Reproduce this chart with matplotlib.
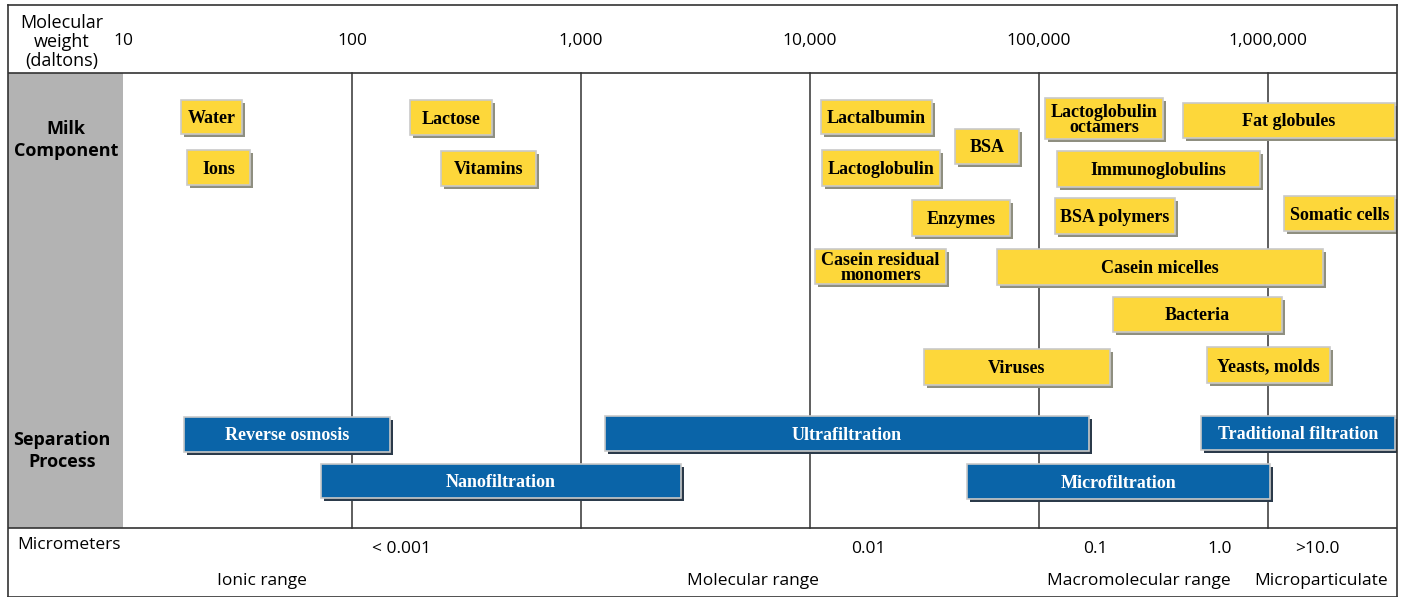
import numpy as np
import matplotlib.pyplot as plt
from matplotlib.patches import Rectangle
from matplotlib.transforms import offset_copy

# Composants du lait : (nom, MW min, MW max, haut, bas) -- y en pixels de ligne
milk_names = ["Water", "Ions", "Lactose", "Vitamins", "Lactalbumin", "Lactoglobulin",
              "BSA", "Enzymes", "Casein residual\nmonomers", "Lactoglobulin\noctamers",
              "Fat globules", "Immunoglobulins", "BSA polymers", "Somatic cells",
              "Casein micelles", "Bacteria", "Viruses", "Yeasts, molds"]
milk_lo = [18, 19, 180, 245, 11200, 11300, 43000, 27900, 10500, 106000,
           425000, 120000, 117000, 1.17e6, 65600, 210000, 31500, 542000]
milk_hi = [33, 36, 410, 635, 34100, 37000, 81800, 74600, 39300, 348000,
           3.6e6, 923000, 393000, 3.59e6, 1.74e6, 1.15e6, 204000, 1.87e6]
milk_top = [100, 150, 100, 151, 100, 150, 129, 200, 249, 98,
            103, 151, 198, 196, 249, 297, 349, 347]
milk_bot = [134, 185, 135, 186, 134, 186, 164, 236, 284, 139,
            138, 187, 234, 231, 285, 332, 385, 383]

# Procédés de séparation
proc_names = ["Reverse osmosis", "Nanofiltration", "Ultrafiltration",
              "Traditional filtration", "Microfiltration"]
proc_lo = [18.5, 73, 1270, 510000, 48500]
proc_hi = [147, 2740, 165000, 3.6e6, 1.02e6]
proc_top = [417, 464, 416, 416, 464]
proc_bot = [452, 498, 451, 450, 499]

mw_ticks = [10, 100, 1000, 10000, 100000, 1000000]
mw_labels = ["10", "100", "1,000", "10,000", "100,000", "1,000,000"]
um_pos = [164, 17900, 177000, 617000, 1.65e6]
um_labels = ["< 0.001", "0.01", "0.1", "1.0", ">10.0"]
range_pos = [40.5, 5640, 274000, 1.70e6]
range_labels = ["Ionic range", "Molecular range", "Macromolecular range", "Microparticulate"]

decade = 229.0  # pixels par décade
x_left = 10 ** (1 - 115 / decade)
x_right = 10 ** (1 + 1274 / decade)

fig = plt.figure(figsize=(14.03, 5.97), dpi=100)
ax = fig.add_axes([8 / 1403, 0, 1389 / 1403, 592 / 597])
ax.set_xscale("log")
ax.set_xlim(x_left, x_right)
ax.set_ylim(592, 0)
ax.set_xticks([])
ax.set_yticks([])
ax.minorticks_off()
for s in ax.spines.values():
    s.set_color("#333333")
    s.set_linewidth(1.2)

# décalage de 5 px pour le y (l'axe commence à y=5)
def Y(v):
    return v - 5

# colonne grise
ax.add_patch(Rectangle((x_left, Y(73)), 10 - x_left, 455, color="#b3b3b3", lw=0, zorder=0))
ax.axhline(Y(73), color="#333333", lw=1.2)
ax.axhline(Y(528), color="#333333", lw=1.2)
for t in mw_ticks[1:]:
    ax.plot([t, t], [Y(73), Y(528)], color="#333333", lw=1.1, zorder=1)

sans = "Open Sans"
for t, lab in zip(mw_ticks, mw_labels):
    ax.text(t, Y(41), lab, ha="center", va="center", fontsize=12.5, family=sans)
ax.text(10 ** (1 - 61 / decade), Y(42), "Molecular\nweight\n(daltons)", ha="center", va="center",
        fontsize=13, family=sans, linespacing=1.05)
ax.text(10 ** (1 - 57 / decade), Y(140), "Milk\nComponent", ha="center", va="center",
        fontsize=13, family=sans, weight="bold", linespacing=1.3)
ax.text(10 ** (1 - 61 / decade), Y(451), "Separation\nProcess", ha="center", va="center",
        fontsize=13, family=sans, weight="bold", linespacing=1.3)
ax.text(10 ** (1 - 106 / decade), Y(545), "Micrometers", ha="left", va="center",
        fontsize=12.5, family=sans)
for p, lab in zip(um_pos, um_labels):
    ax.text(p, Y(549), lab, ha="center", va="center", fontsize=12.5, family=sans)
for p, lab in zip(range_pos, range_labels):
    ax.text(p, Y(581), lab, ha="center", va="center", fontsize=12.5, family=sans)

shadow = offset_copy(ax.transData, fig=fig, x=3, y=-3, units="dots")


def draw_box(lo, hi, top, bot, name, face, shade, tcolor):
    w = hi - lo
    h = bot - top
    ax.add_patch(Rectangle((lo, Y(top)), w, h, facecolor=shade, lw=0,
                           transform=shadow, zorder=2))
    ax.add_patch(Rectangle((lo, Y(top)), w, h, facecolor=face, edgecolor="#c9c9c9",
                           lw=1.2, zorder=3))
    ax.text(np.sqrt(lo * hi), Y((top + bot) / 2 + 1.5), name, ha="center", va="center",
            fontsize=13, family="Liberation Serif", weight="bold", color=tcolor,
            linespacing=0.85, zorder=4)


for n, lo, hi, t, b in zip(milk_names, milk_lo, milk_hi, milk_top, milk_bot):
    draw_box(lo, hi, t, b, n, "#fdd73a", "#8f8f80", "black")
for n, lo, hi, t, b in zip(proc_names, proc_lo, proc_hi, proc_top, proc_bot):
    draw_box(lo, hi, t, b, n, "#0a64a8", "#2b3a4a", "white")

plt.savefig("out.png", dpi=100)
